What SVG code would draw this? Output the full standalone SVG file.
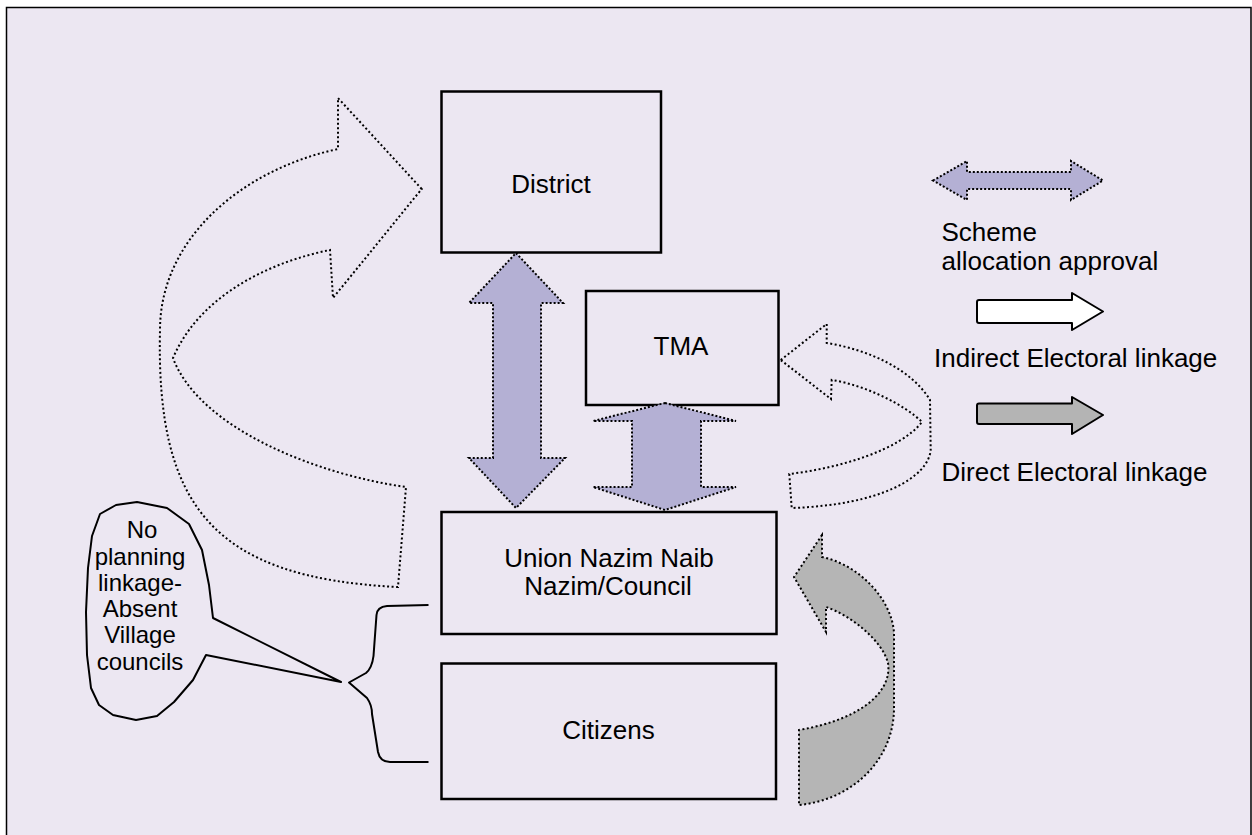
<svg xmlns="http://www.w3.org/2000/svg" width="1252" height="835" viewBox="0 0 1252 835">
  <style>
    .frame { fill: #ECE7F2; stroke: #000; stroke-width: 1.5; }
    .box { fill: #ECE7F2; stroke: #000; stroke-width: 2.5; }
    .label { font-family: "Liberation Sans", Arial, sans-serif; font-size: 26px; fill: #000; }
    .mid { text-anchor: middle; }
    .note { font-family: "Liberation Sans", Arial, sans-serif; font-size: 24px; fill: #000; text-anchor: middle; }
    .dotted { fill: none; stroke: #000; stroke-width: 2; stroke-dasharray: 2 2.5; }
    .purple { fill: #B4B0D4; stroke: #000; stroke-width: 2; stroke-dasharray: 2 2; }
    .grey { fill: #B5B5B5; stroke: #000; stroke-width: 2; stroke-dasharray: 2 2.5; }
    .solid { fill: none; stroke: #000; stroke-width: 2; stroke-linejoin: round; }
  </style>

  <rect x="0" y="0" width="1252" height="835" fill="#FFFFFF"/>
  <rect class="frame" x="6.5" y="7.5" width="1244.5" height="840"/>

  <!-- boxes -->
  <g id="district">
    <rect class="box" x="441.5" y="91.5" width="219.5" height="161"/>
    <text class="label mid" x="551" y="193">District</text>
  </g>
  <g id="tma">
    <rect class="box" x="586" y="291" width="192.5" height="114"/>
    <text class="label mid" x="681" y="355">TMA</text>
  </g>
  <g id="union">
    <rect class="box" x="441.5" y="512" width="335" height="122"/>
    <text class="label mid" x="609" y="567">Union Nazim Naib</text>
    <text class="label mid" x="608" y="595">Nazim/Council</text>
  </g>
  <g id="citizens">
    <rect class="box" x="441.5" y="663.5" width="334.5" height="135.5"/>
    <text class="label mid" x="608.5" y="739">Citizens</text>
  </g>

  <!-- linkages -->
  <g id="connectors">
    <!-- District <-> Union -->
    <polygon class="purple" points="516,253 563,303 541,303 541,458 565,458 516,508 469,458 493,458 493,303 469,303"/>
    <!-- TMA <-> Union -->
    <polygon class="purple" points="665,403 736,421 701,421 701,487 736,487 665,510 593,487 632,487 632,421 593,421"/>
    <!-- indirect electoral linkage up to District -->
    <path class="dotted" d="M421.7,189 L338,98 L338,149 C240,170 160,240 160,330 C156,505 212,578 398,587 L406,487 C320,475 200,430 173,358 C200,295 270,262 330,250 L333,298 Z"/>
    <!-- indirect electoral linkage up to TMA -->
    <path class="dotted" d="M780.7,360 L826.7,324 L826.7,343 C870,350 912,370 930,400 L930.7,450 C928,478 880,505 791.7,508 L789.3,474 C840,468 900,450 922,422 C905,405 865,385 831.7,380 L831,399 Z"/>
    <!-- direct electoral linkage from citizens -->
    <path class="grey" d="M822,535 L794,577 L826,632 L826,607 C850,615 882,640 888,663 C892,688 868,718 799,730 L799,805 C852,800 894,760 894,708 L894,633 C892,600 860,565 822,557 Z"/>
  </g>

  <!-- callout -->
  <g id="callout">
    <polygon class="solid" fill="#ECE7F2" points="137,502 167,508 189,524 202,550 209,585 213,618 341,682 206,655 193,680 174,702 157,716 136,720 113,715 99,705 91,688 87,655 86,612 88,568 92,536 100,514 116,505"/>
    <text class="note" x="142" y="538">No</text>
    <text class="note" x="140" y="565">planning</text>
    <text class="note" x="140" y="591">linkage-</text>
    <text class="note" x="140" y="617">Absent</text>
    <text class="note" x="140" y="643">Village</text>
    <text class="note" x="140" y="670">councils</text>
  </g>

  <!-- brace grouping Union council and citizens -->
  <g id="brace">
    <path class="solid" d="M428.5,605 L387,606 Q377,607 376.5,615 L373.5,656 Q372,668 366,673 L349,682.5 L367,698 Q372,705 372,714 L378,752 Q380,762 390,762 L428.5,762"/>
  </g>

  <!-- legend -->
  <g id="legend">
    <polygon class="purple" points="933,180.5 967,161 967,172 1071,172 1071,161 1103,180.5 1071,200 1071,189 967,189 967,200"/>
    <text class="label" x="941.5" y="241">Scheme</text>
    <text class="label" x="941.5" y="270">allocation approval</text>
    <path d="M979,300 L1072,300 L1072,293 L1103,311.5 L1072,330 L1072,323 L979,323 Q977,323 977,321 L977,302 Q977,300 979,300 Z" fill="#FFFFFF" stroke="#000" stroke-width="2" stroke-linejoin="round"/>
    <text class="label" x="934" y="367">Indirect Electoral linkage</text>
    <path d="M979,403.5 L1072,403.5 L1072,397 L1103,415 L1072,434 L1072,424 L979,424 Q977,424 977,422 L977,405.5 Q977,403.5 979,403.5 Z" fill="#B4B4B4" stroke="#000" stroke-width="2" stroke-linejoin="round"/>
    <text class="label" x="941.5" y="481">Direct Electoral linkage</text>
  </g>
</svg>
